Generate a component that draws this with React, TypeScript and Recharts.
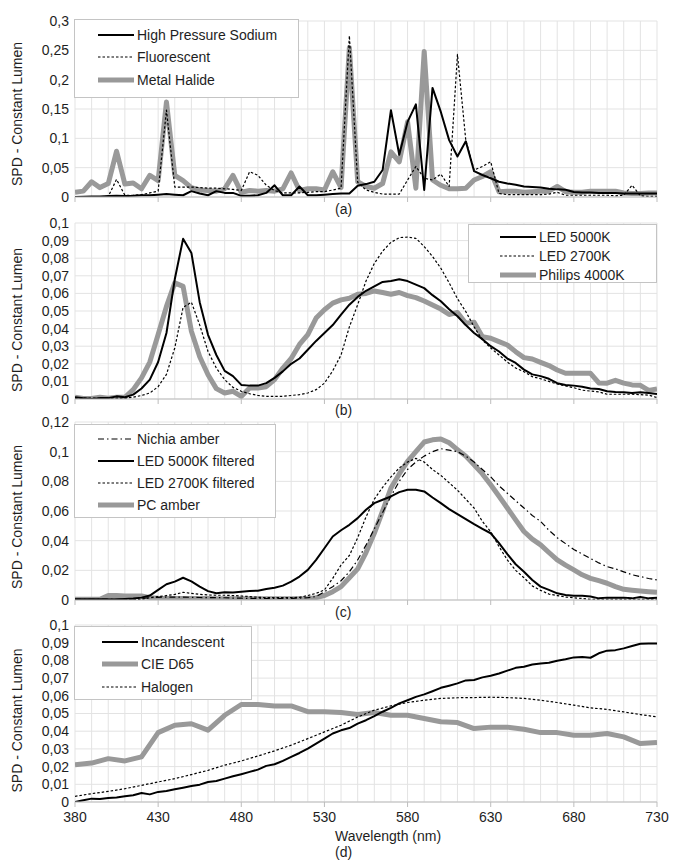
import React from "react";
import { LineChart, Line, XAxis, YAxis, CartesianGrid } from "recharts";

const FONT = '"Liberation Sans", Arial, sans-serif';
const BLACK = "#000000";
const GRAY = "#999999";

// wavelengths (nm)
const WL5 = [
  380, 385, 390, 395, 400, 405, 410, 415, 420, 425,
  430, 435, 440, 445, 450, 455, 460, 465, 470, 475,
  480, 485, 490, 495, 500, 505, 510, 515, 520, 525,
  530, 535, 540, 545, 550, 555, 560, 565, 570, 575,
  580, 585, 590, 595, 600, 605, 610, 615, 620, 625,
  630, 635, 640, 645, 650, 655, 660, 665, 670, 675,
  680, 685, 690, 695, 700, 705, 710, 715, 720, 725,
  730,
];
const WL10 = [
  380, 390, 400, 410, 420, 430, 440, 450, 460, 470,
  480, 490, 500, 510, 520, 530, 540, 550, 560, 570,
  580, 590, 600, 610, 620, 630, 640, 650, 660, 670,
  680, 690, 700, 710, 720, 730,
];
const MAJOR_X = [380, 430, 480, 530, 580, 630, 680, 730];

const TICKS_A = [0, 0.05, 0.1, 0.15, 0.2, 0.25, 0.3];
const TICKS_B = [0, 0.01, 0.02, 0.03, 0.04, 0.05, 0.06, 0.07, 0.08, 0.09, 0.1];
const TICKS_C = [0, 0.02, 0.04, 0.06, 0.08, 0.1, 0.12];
const TICKS_D = [0, 0.01, 0.02, 0.03, 0.04, 0.05, 0.06, 0.07, 0.08, 0.09, 0.1];

// (a)
const HPS = [
  0, 0.0005, 0.001, 0.001, 0.0015, 0.002, 0.0015, 0.002, 0.003, 0.003,
  0.004, 0.005, 0.004, 0.003, 0.01, 0.006, 0.003, 0.01, 0.007, 0.007,
  0.002, 0.002, 0.003, 0.007, 0.02, 0.003, 0.003, 0.018, 0.003, 0.003,
  0.004, 0.005, 0.006, 0.006, 0.019, 0.022, 0.026, 0.046, 0.148, 0.072,
  0.128, 0.158, 0.012, 0.186, 0.145, 0.097, 0.069, 0.095, 0.044, 0.0375,
  0.032, 0.026, 0.023, 0.021, 0.018, 0.017, 0.016, 0.014, 0.013, 0.0125,
  0.0085, 0.0075, 0.0075, 0.007, 0.007, 0.007, 0.006, 0.006, 0.006, 0.006,
  0.006,
];
const FLUORESCENT = [
  0, 0, 0, 0, 0.001, 0.03, 0.003, 0.003, 0.004, 0.007,
  0.01, 0.148, 0.017, 0.017, 0.017, 0.016, 0.015, 0.015, 0.014, 0.013,
  0.011, 0.043, 0.037, 0.02, 0.011, 0.007, 0.007, 0.007, 0.008, 0.009,
  0.009, 0.012, 0.015, 0.275, 0.025, 0.012, 0.008, 0.005, 0.005, 0.005,
  0.029, 0.052, 0.032, 0.029, 0.039, 0.018, 0.243, 0.097, 0.046, 0.052,
  0.06, 0.006, 0.004, 0.004, 0.004, 0.004, 0.004, 0.005, 0.008, 0.003,
  0.003, 0.003, 0.003, 0.003, 0.003, 0.002, 0.003, 0.02, 0.002, 0.001,
  0.001,
];
const METAL_HALIDE = [
  0.008, 0.01, 0.026, 0.016, 0.023, 0.078, 0.022, 0.024, 0.014, 0.037,
  0.028, 0.162, 0.037, 0.028, 0.016, 0.012, 0.011, 0.01, 0.014, 0.037,
  0.008, 0.011, 0.01, 0.011, 0.01, 0.014, 0.041, 0.011, 0.014, 0.014,
  0.012, 0.043, 0.016, 0.255, 0.026, 0.018, 0.015, 0.023, 0.077, 0.06,
  0.128, 0.015, 0.248, 0.029, 0.02, 0.014, 0.014, 0.015, 0.029, 0.035,
  0.043, 0.009, 0.01, 0.01, 0.008, 0.009, 0.01, 0.01, 0.018, 0.009,
  0.008, 0.008, 0.01, 0.01, 0.01, 0.01, 0.007, 0.006, 0.006, 0.007,
  0.007,
];

// (b)
const LED_5000K = [
  0.001, 0.0005, 0, 0.0005, 0.0005, 0.0015, 0.001, 0.0025, 0.006, 0.011,
  0.021, 0.0375, 0.068, 0.091, 0.083, 0.055, 0.0365, 0.025, 0.016, 0.013,
  0.008, 0.0076, 0.0076, 0.009, 0.012, 0.0157, 0.02, 0.023, 0.028, 0.033,
  0.0375, 0.042, 0.048, 0.0536, 0.058, 0.0615, 0.064, 0.0665, 0.067, 0.068,
  0.067, 0.065, 0.063, 0.059, 0.0555, 0.051, 0.047, 0.042, 0.0375, 0.034,
  0.03, 0.027, 0.023, 0.0205, 0.0167, 0.014, 0.013, 0.0115, 0.009, 0.008,
  0.0076, 0.007, 0.006, 0.0057, 0.0044, 0.004, 0.0038, 0.0034, 0.0038, 0.0034,
  0.0028,
];
const LED_2700K = [
  0.0005, 0.0005, 0.0005, 0.0005, 0.0005, 0.0005, 0.0005, 0.001, 0.002, 0.0034,
  0.007, 0.014, 0.029, 0.052, 0.055, 0.042, 0.027, 0.0176, 0.011, 0.0066,
  0.0044, 0.003, 0.002, 0.0015, 0.0015, 0.0015, 0.002, 0.0025, 0.0034, 0.0053,
  0.009, 0.016, 0.025, 0.041, 0.0536, 0.067, 0.077, 0.084, 0.089, 0.0917,
  0.092, 0.0913, 0.0866, 0.081, 0.0743, 0.066, 0.057, 0.0497, 0.041, 0.0335,
  0.029, 0.025, 0.021, 0.0176, 0.0155, 0.0127, 0.0115, 0.01, 0.0085, 0.0074,
  0.0064, 0.005, 0.0045, 0.004, 0.0027, 0.0027, 0.0027, 0.0027, 0.0025, 0.0022,
  0.0008,
];
const PHILIPS_4000K = [
  0.001, 0.0003, 0.0003, 0.001, 0.0005, 0.001, 0.001, 0.0053, 0.012, 0.021,
  0.0366, 0.0526, 0.066, 0.064, 0.0385, 0.024, 0.0138, 0.0059, 0.0034, 0.0044,
  0.0015, 0.0062, 0.0062, 0.007, 0.011, 0.0176, 0.023, 0.031, 0.0366, 0.046,
  0.0507, 0.0545, 0.0563, 0.0572, 0.0595, 0.06, 0.0614, 0.0605, 0.0595, 0.0605,
  0.0587, 0.0576, 0.0557, 0.0534, 0.0511, 0.048, 0.0492, 0.043, 0.0436, 0.0354,
  0.0345, 0.0326, 0.0307, 0.0269, 0.0235, 0.0227, 0.0208, 0.019, 0.0165, 0.0146,
  0.0146, 0.0146, 0.0146, 0.0091, 0.009, 0.0106, 0.009, 0.008, 0.0078, 0.0049,
  0.0057,
];

// (c)
const NICHIA_AMBER = [
  0.0005, 0.0005, 0.0005, 0.0005, 0.0005, 0.0005, 0.0005, 0.0005, 0.001, 0.0016,
  0.0018, 0.002, 0.002, 0.002, 0.0018, 0.0017, 0.0016, 0.0016, 0.0015, 0.0013,
  0.0012, 0.0011, 0.001, 0.001, 0.001, 0.001, 0.0011, 0.0013, 0.0016, 0.0023,
  0.0056, 0.009, 0.013, 0.019, 0.027, 0.037, 0.048, 0.059, 0.07, 0.08,
  0.088, 0.093, 0.097, 0.1, 0.102, 0.101, 0.1, 0.097, 0.093, 0.088,
  0.083, 0.077, 0.072, 0.067, 0.062, 0.057, 0.053, 0.047, 0.042, 0.038,
  0.034, 0.031, 0.028, 0.025, 0.0225, 0.021, 0.019, 0.017, 0.0158, 0.0145,
  0.0135,
];
const LED_5000K_FILTERED = [
  0.0005, 0.0005, 0.0005, 0.0005, 0.0005, 0.0005, 0.0007, 0.001, 0.0016, 0.003,
  0.0068, 0.0106, 0.0124, 0.015, 0.0126, 0.009, 0.006, 0.0045, 0.0052, 0.005,
  0.0056, 0.006, 0.0063, 0.0074, 0.0083, 0.0097, 0.0124, 0.0158, 0.0203, 0.027,
  0.0349, 0.0428, 0.047, 0.0507, 0.0552, 0.0608, 0.0653, 0.0676, 0.0698, 0.0727,
  0.0743, 0.0743, 0.0732, 0.0691, 0.0653, 0.0613, 0.0579, 0.0545, 0.0511, 0.048,
  0.045, 0.0383, 0.0309, 0.0241, 0.0191, 0.0135, 0.009, 0.0068, 0.0045, 0.0034,
  0.0029, 0.0029, 0.0023, 0.0011, 0.0016, 0.0016, 0.0016, 0.0011, 0.002, 0.0011,
  0.0016,
];
const LED_2700K_FILTERED = [
  0.0003, 0.0003, 0.0003, 0.0003, 0.0003, 0.0003, 0.0003, 0.0003, 0.0003, 0.0016,
  0.0023, 0.003, 0.0038, 0.0052, 0.0045, 0.0038, 0.0034, 0.0032, 0.0032, 0.003,
  0.0027, 0.0023, 0.0018, 0.0016, 0.0016, 0.0016, 0.0016, 0.0018, 0.003, 0.0045,
  0.0068, 0.0146, 0.0236, 0.03, 0.042, 0.056, 0.068, 0.076, 0.083, 0.089,
  0.093, 0.0955, 0.093, 0.088, 0.084, 0.079, 0.074, 0.068, 0.062, 0.053,
  0.046, 0.036, 0.027, 0.02, 0.015, 0.0095, 0.0065, 0.004, 0.003, 0.002,
  0.0015, 0.001, 0.0005, 0.0005, 0.0005, 0.0005, 0.0005, 0.0005, 0.0005, 0.0005,
  0.0005,
];
const PC_AMBER = [
  0.0005, 0.0005, 0.0005, 0.0005, 0.003, 0.003, 0.0027, 0.0027, 0.0027, 0.0016,
  0.0012, 0.001, 0.001, 0.001, 0.001, 0.001, 0.001, 0.0008, 0.0008, 0.0008,
  0.0008, 0.0008, 0.0008, 0.0008, 0.0008, 0.0008, 0.0008, 0.0008, 0.0008, 0.0016,
  0.003, 0.0056, 0.009, 0.015, 0.021, 0.032, 0.045, 0.06, 0.0755, 0.085,
  0.0935, 0.1, 0.1065, 0.108, 0.1086, 0.106, 0.1014, 0.097, 0.0912, 0.085,
  0.0777, 0.07, 0.062, 0.054, 0.0462, 0.041, 0.0372, 0.032, 0.027, 0.0235,
  0.0203, 0.017, 0.0146, 0.013, 0.0113, 0.009, 0.0072, 0.0066, 0.0061, 0.0056,
  0.0052,
];

// (d)
const INCANDESCENT = [
  0, 0.001, 0.0019, 0.0017, 0.0023, 0.0025, 0.0032, 0.0038, 0.0051, 0.0043,
  0.0057, 0.0062, 0.0072, 0.0081, 0.009, 0.0098, 0.0113, 0.0119, 0.0132, 0.0145,
  0.0157, 0.017, 0.0183, 0.0204, 0.0213, 0.0232, 0.0255, 0.0277, 0.0302, 0.033,
  0.0358, 0.0387, 0.0405, 0.0418, 0.0443, 0.0462, 0.0485, 0.051, 0.0532, 0.0557,
  0.0575, 0.0594, 0.0608, 0.0626, 0.0645, 0.0657, 0.067, 0.0687, 0.0689, 0.0704,
  0.0713, 0.0726, 0.0742, 0.0758, 0.0764, 0.0777, 0.0783, 0.0787, 0.0798, 0.0806,
  0.0817, 0.0819, 0.0815, 0.084, 0.0855, 0.0858, 0.0868, 0.0881, 0.0894, 0.0896,
  0.0896,
];
const CIE_D65 = [
  0.0211, 0.022, 0.0245, 0.0232, 0.0255, 0.0392, 0.0434, 0.0442, 0.0406, 0.049,
  0.0551, 0.0551, 0.0542, 0.0543, 0.051, 0.051, 0.0506, 0.0494, 0.0506, 0.049,
  0.049, 0.0472, 0.0453, 0.0449, 0.0415, 0.0423, 0.0423, 0.0411, 0.0392, 0.0392,
  0.0377, 0.0377, 0.0387, 0.0368, 0.033, 0.0336,
];
const HALOGEN = [
  0.0032, 0.0047, 0.006, 0.0075, 0.0094, 0.0113, 0.0132, 0.0155, 0.0179, 0.0208,
  0.0232, 0.026, 0.0289, 0.0321, 0.0358, 0.0396, 0.0434, 0.048, 0.0519, 0.0543,
  0.0562, 0.0575, 0.0585, 0.0589, 0.059, 0.0592, 0.059, 0.0585, 0.0575, 0.0562,
  0.0547, 0.0532, 0.0523, 0.0509, 0.0494, 0.0481,
];

interface Serie {
  name: string;
  wl: number[];
  values: number[];
  color: string;
  width: number;
  dash?: string;
}

const SOLID = (name: string, wl: number[], values: number[]): Serie => ({ name, wl, values, color: BLACK, width: 2 });
const DOTTED = (name: string, wl: number[], values: number[]): Serie => ({ name, wl, values, color: BLACK, width: 1.2, dash: "2.5 2" });
const THICK = (name: string, wl: number[], values: number[]): Serie => ({ name, wl, values, color: GRAY, width: 5 });

const SERIES_A = [SOLID("High Pressure Sodium", WL5, HPS), DOTTED("Fluorescent", WL5, FLUORESCENT), THICK("Metal Halide", WL5, METAL_HALIDE)];
const SERIES_B = [SOLID("LED 5000K", WL5, LED_5000K), DOTTED("LED 2700K", WL5, LED_2700K), THICK("Philips 4000K", WL5, PHILIPS_4000K)];
const SERIES_C = [
  { name: "Nichia amber", wl: WL5, values: NICHIA_AMBER, color: BLACK, width: 1.2, dash: "6 3 1.5 3" },
  SOLID("LED 5000K filtered", WL5, LED_5000K_FILTERED),
  DOTTED("LED 2700K filtered", WL5, LED_2700K_FILTERED),
  THICK("PC amber", WL5, PC_AMBER),
];
const SERIES_D = [SOLID("Incandescent", WL5, INCANDESCENT), THICK("CIE D65", WL10, CIE_D65), DOTTED("Halogen", WL10, HALOGEN)];

const rows = (wl: number[], values: number[]) => wl.map((w, i) => ({ wl: w, v: values[i] }));
const fmtY = (v: number) => (v === 0 ? "0" : String(v).replace(".", ","));

function XTick(props: any) {
  const { x, y, payload, showLabel } = props;
  const v = payload.value;
  if (!MAJOR_X.includes(v)) return <g />;
  return (
    <g>
      <line x1={x} x2={x} y1={y} y2={y + 5} stroke="#bdbdbd" />
      {showLabel && (
        <text x={x} y={y + 15} dy="0.35em" textAnchor="middle" fontSize={14} fill="#1e1e1e" fontFamily={FONT}>
          {v}
        </text>
      )}
    </g>
  );
}

function YLabel(props: any) {
  const { viewBox, shift } = props;
  const cx = 17;
  const cy = viewBox.y + viewBox.height / 2 + shift;
  return (
    <text
      x={cx}
      y={cy}
      transform={`rotate(-90 ${cx} ${cy})`}
      textAnchor="middle"
      dominantBaseline="central"
      fontSize={14}
      fill="#1e1e1e"
      fontFamily={FONT}
    >
      SPD - Constant Lumen
    </text>
  );
}

interface PanelProps {
  top: number;
  height: number;
  xHeight: number;
  yMax: number;
  yTicks: number[];
  series: Serie[];
  showLabels?: boolean;
  labelShift: number;
}

function Panel({ top, height, xHeight, yMax, yTicks, series, showLabels = false, labelShift }: PanelProps) {
  // thick grey lines go underneath
  const drawOrder = [...series].sort((a, b) => b.width - a.width);
  return (
    <div style={{ position: "absolute", left: 0, top }}>
      <LineChart width={690} height={height} margin={{ top: 12, right: 33, bottom: 0, left: 0 }}>
        <CartesianGrid stroke="#e3e3e3" />
        <XAxis
          type="number"
          dataKey="wl"
          domain={[380, 730]}
          ticks={WL10}
          interval={0}
          height={xHeight}
          tickLine={false}
          tickSize={0}
          tickMargin={0}
          axisLine={{ stroke: "#bdbdbd" }}
          tick={<XTick showLabel={showLabels} />}
          allowDataOverflow
        />
        <YAxis
          type="number"
          domain={[0, yMax]}
          ticks={yTicks}
          interval={0}
          width={75}
          axisLine={false}
          tickLine={false}
          tickSize={0}
          tickMargin={6}
          tickFormatter={fmtY}
          tick={{ fontSize: 14, fill: "#1e1e1e", fontFamily: FONT }}
          label={<YLabel shift={labelShift} />}
          allowDataOverflow
        />
        {drawOrder.map((s) => (
          <Line
            key={s.name}
            data={rows(s.wl, s.values)}
            dataKey="v"
            name={s.name}
            type="linear"
            stroke={s.color}
            strokeWidth={s.width}
            strokeDasharray={s.dash}
            strokeLinejoin="round"
            dot={false}
            activeDot={false}
            isAnimationActive={false}
          />
        ))}
      </LineChart>
    </div>
  );
}

interface LegendProps {
  left: number;
  top: number;
  width: number;
  height: number;
  lineX: number;
  rowY: number[];
  series: Serie[];
}

function LegendBox({ left, top, width, height, lineX, rowY, series }: LegendProps) {
  return (
    <div
      style={{
        position: "absolute",
        left,
        top,
        width,
        height,
        boxSizing: "border-box",
        border: "1px solid #c4c4c4",
        background: "#fff",
      }}
    >
      {series.map((s, i) => (
        <div
          key={s.name}
          style={{ position: "absolute", left: lineX, top: rowY[i] - 10, height: 20, display: "flex", alignItems: "center", whiteSpace: "nowrap" }}
        >
          <svg width={36} height={20} style={{ display: "block" }}>
            <line x1={0} x2={36} y1={10} y2={10} stroke={s.color} strokeWidth={s.width} strokeDasharray={s.dash} />
          </svg>
          <span style={{ marginLeft: 3, fontSize: 14, lineHeight: "20px", color: "#1e1e1e" }}>{s.name}</span>
        </div>
      ))}
    </div>
  );
}

function Caption({ text, left, cy }: { text: string; left: number; cy: number }) {
  return (
    <div style={{ position: "absolute", left, top: cy - 9, height: 18, lineHeight: "18px", fontSize: 14, color: "#1e1e1e", whiteSpace: "nowrap" }}>
      {text}
    </div>
  );
}

export default function App() {
  return (
    <div style={{ position: "absolute", left: 0, top: 0, width: 690, height: 863, background: "#fff", fontFamily: FONT, overflow: "hidden" }}>
      <Panel top={9} height={200} xHeight={12} yMax={0.3} yTicks={TICKS_A} series={SERIES_A} labelShift={5} />
      <Panel top={211} height={200} xHeight={12} yMax={0.1} yTicks={TICKS_B} series={SERIES_B} labelShift={9} />
      <Panel top={410} height={202} xHeight={12} yMax={0.12} yTicks={TICKS_C} series={SERIES_C} labelShift={6} />
      <Panel top={613} height={219} xHeight={30} yMax={0.1} yTicks={TICKS_D} series={SERIES_D} showLabels labelShift={7} />

      <LegendBox left={74} top={19} width={225} height={79} lineX={23} rowY={[15, 37, 60]} series={SERIES_A} />
      <LegendBox left={468} top={224} width={189} height={59} lineX={31} rowY={[12, 31, 50]} series={SERIES_B} />
      <LegendBox left={74} top={424} width={202} height={94} lineX={23} rowY={[14, 36, 58, 80]} series={SERIES_C} />
      <LegendBox left={74} top={626} width={178} height={74} lineX={27} rowY={[15, 37, 60]} series={SERIES_D} />

      <Caption text="(a)" left={335} cy={209} />
      <Caption text="(b)" left={335} cy={410} />
      <Caption text="(c)" left={335} cy={612} />
      <Caption text="Wavelength (nm)" left={335} cy={836} />
      <Caption text="(d)" left={335} cy={852} />
    </div>
  );
}
